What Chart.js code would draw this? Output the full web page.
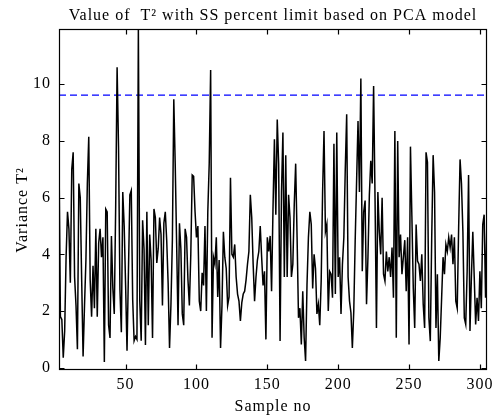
<!DOCTYPE html>
<html><head><meta charset="utf-8">
<script src="https://cdn.jsdelivr.net/npm/chart.js@4/dist/chart.umd.min.js"></script>
<style>html,body{margin:0;padding:0;background:#fff;overflow:hidden}</style>
</head><body>
<canvas id="c" width="497" height="417"></canvas>
<script>
const chartTitle = 'Value of  T\u00B2 with SS percent limit based on PCA model';
const xAxisTitle = 'Sample no';
const yAxisTitle = 'Variance T\u00B2';
const firstSample = 3;
const t2Values = [
 7.4,1.8,1.7,0.35,1.3,3.9,5.5,4.9,3.0,7.0, 7.6,3.2,2.2,0.65,6.5,6.0,3.1,0.4,2.2,3.8,
 6.5,8.15,3.1,1.8,3.6,2.1,4.9,1.8,4.4,4.9, 3.9,4.6,0.2,5.6,5.5,1.5,1.05,4.65,2.8,1.9,
 5.7,10.6,7.8,2.75,1.25,6.2,5.0,2.9,0.6,3.4, 6.1,6.25,2.4,0.95,1.1,1.0,11.95,2.35,0.95,5.2,
 4.2,0.8,5.5,1.5,4.7,3.8,1.05,5.6,5.3,3.7, 4.2,5.3,4.7,2.2,5.1,5.5,4.5,3.0,0.7,2.24,
 4.5,9.47,7.2,
 4.4,1.5,5.1,4.2,1.9,1.5,4.9,4.6,3.1,2.2, 4.0,6.8,6.75,5.5,4.6,5.0,2.35,2.0,3.35,2.9,
 5.0,2.0,5.5,7.2,10.5,1.06,3.9,3.65,4.6,2.5, 3.8,0.7,2.2,4.8,3.9,3.5,2.2,2.5,
 6.7,4.0,3.9,4.35,3.2,2.6,2.35,1.65,2.3,2.6, 2.7,3.1,3.65,4.1,6.1,5.3,3.65,2.35,3.2,3.8,
 4.1,5.0,3.9,2.9,3.4,1.0,4.6,4.1,4.65,2.7, 5.6,8.06,5.4,8.76,7.2,0.94,6.2,8.3,3.2,7.5,
 3.2,6.1,5.3,3.2,3.65,5.76,7.2,4.6,1.76,2.1, 0.82,2.7,1.06,0.24,2.94,4.6,5.5,5.06,2.8,4.0,
 3.5,1.9,2.24,1.5,3.06,6.2,8.35,4.8,5.06,2.0, 3.4,3.3,2.47,7.9,2.6,8.3,3.2,3.9,1.9,3.65,
 4.6,7.0,8.94,3.2,2.35,1.94,0.7,2.0,4.5,6.6, 8.7,6.2,10.2,3.4,5.5,5.9,2.24,3.9,6.1,7.3,
 6.5,9.94,6.0,1.4,6.2,4.8,4.0,6.0,3.3,3.06, 4.1,3.4,3.9,3.2,4.24,2.47,8.35,1.06,8.0,3.9,4.7,
 3.3,3.9,4.5,2.7,4.6,0.82,7.8,5.35,2.8,1.4, 5.05,3.76,3.65,3.06,4.0,2.24,1.4,7.6,7.25,1.76,
 0.94,4.6,7.5,6.2,1.4,3.3,0.24,1.06,2.47,3.9, 3.3,4.35,4.1,4.6,4.24,4.7,3.65,4.6,2.35,2.1,
 4.94,7.35,6.5,4.8,1.76,1.53,3.4,6.8,1.3,3.2, 4.8,3.2,1.53,2.47,1.65,3.4,2.1,5.05,5.4,2.47,5.3
];
const limitValue = 9.62;
const xTickValues = [50, 100, 150, 200, 250, 300];
const yTickValues = [0, 2, 4, 6, 8, 10];
const xRange = [3, 305];
const yRange = [-0.08, 11.95];

const seriesPoints = t2Values.map((v, i) => ({x: firstSample + i, y: v}));
const limitPoints = xRange.map(x => ({x: x, y: limitValue}));

const FONT = '"Liberation Serif", "Times New Roman", serif';
const SPACING = '1px';

const framePlugin = {
  id: 'matlabFrame',
  beforeDraw(chart) { chart.ctx.letterSpacing = SPACING; },
  afterDraw(chart) {
    const ctx = chart.ctx, a = chart.chartArea;
    const xs = chart.scales.x, ys = chart.scales.y;
    ctx.save();
    ctx.strokeStyle = '#000';
    ctx.lineWidth = 1.2;
    const L = Math.round(a.left) + 0.5, R = Math.round(a.right) - 0.5;
    const T = Math.round(a.top) + 0.5, B = Math.round(a.bottom) - 0.5;
    ctx.strokeRect(L, T, R - L, B - T);
    const tl = 5;
    ctx.beginPath();
    xTickValues.forEach(v => {
      const px = Math.round(xs.getPixelForValue(v)) + 0.5;
      ctx.moveTo(px, B); ctx.lineTo(px, B - tl);
      ctx.moveTo(px, T); ctx.lineTo(px, T + tl);
    });
    yTickValues.forEach(v => {
      const py = Math.round(ys.getPixelForValue(v)) + 0.5;
      ctx.moveTo(L, py); ctx.lineTo(L + tl, py);
      ctx.moveTo(R, py); ctx.lineTo(R - tl, py);
    });
    ctx.stroke();
    ctx.fillStyle = '#000';
    ctx.letterSpacing = SPACING;
    ctx.textAlign = 'center';
    ctx.textBaseline = 'middle';
    ctx.font = '16px ' + FONT;
    ctx.fillText(chartTitle, (a.left + a.right) / 2, 16);
    ctx.fillText(xAxisTitle, (a.left + a.right) / 2, 407);
    ctx.translate(23, 210);
    ctx.rotate(-Math.PI / 2);
    ctx.fillText(yAxisTitle, 0, 0);
    ctx.restore();
  }
};

new Chart(document.getElementById('c'), {
  type: 'line',
  data: {
    datasets: [
      {data: seriesPoints, borderColor: '#000', borderWidth: 1.5, pointRadius: 0, tension: 0, fill: false},
      {data: limitPoints, borderColor: '#0000ff', borderWidth: 1.3, borderDash: [7, 4], pointRadius: 0, fill: false}
    ]
  },
  options: {
    responsive: false,
    animation: false,
    devicePixelRatio: 1,
    layout: {padding: {top: 29, right: 6, left: 0, bottom: 0}},
    plugins: {legend: {display: false}, tooltip: {enabled: false}, title: {display: false}},
    scales: {
      x: {
        type: 'linear', min: xRange[0], max: xRange[1],
        grid: {display: false, drawTicks: false},
        border: {display: false},
        afterBuildTicks(s) { s.ticks = xTickValues.map(v => ({value: v})); },
        afterFit(s) { s.height = 47; },
        ticks: {color: '#000', padding: 5, maxRotation: 0, autoSkip: false, font: {family: FONT, size: 16}}
      },
      y: {
        type: 'linear', min: yRange[0], max: yRange[1],
        grid: {display: false, drawTicks: false},
        border: {display: false},
        afterBuildTicks(s) { s.ticks = yTickValues.map(v => ({value: v})); },
        afterFit(s) { s.width = 59; },
        ticks: {color: '#000', padding: 8, autoSkip: false, font: {family: FONT, size: 16}}
      }
    }
  },
  plugins: [framePlugin]
});
</script>
</body></html>
